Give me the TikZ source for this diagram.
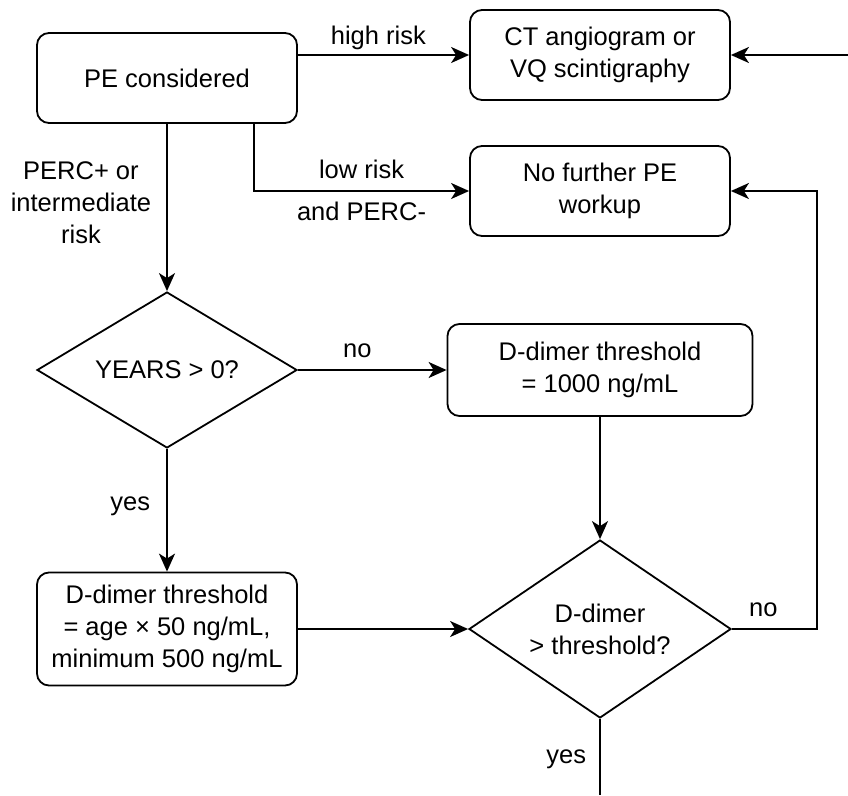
\documentclass[tikz,border=0pt]{standalone}
\usepackage{fontspec}
\setmainfont{Liberation Sans}
\usetikzlibrary{shapes.geometric,arrows.meta}

\begin{document}
\begin{tikzpicture}[x=1pt, y=-1pt, line width=1.8pt,
        font=\fontsize{25.5}{32}\selectfont,
        box/.style={draw, rounded corners=12pt, align=center, minimum width=260pt, minimum height=90pt, inner sep=0pt},
        decision/.style={draw, diamond, align=center, inner sep=0pt},
        arr/.style={-{Stealth[length=18pt, width=16pt, inset=5pt]}},
        lbl/.style={inner sep=6pt, text height=19pt, text depth=6pt}]
            \useasboundingbox (0,0) rectangle (848,795);

            \node[box] (pe) at (167,78) {PE considered};
            \node[box] (ct) at (600,55) {CT angiogram or\\VQ scintigraphy};
            \node[box] (nofurther) at (600,191) {No further PE\\workup};
            \node[decision, minimum width=260pt, minimum height=156pt, aspect=1.67] (years) at (167,370) {YEARS > 0?};
            \node[box, minimum width=305pt, minimum height=92pt] (fixedthr) at (600,370) {D-dimer threshold\\= 1000 ng/mL};
            \node[box, minimum height=113pt] (agethr) at (167,629) {D-dimer threshold\\= age × 50 ng/mL,\\minimum 500 ng/mL};
            \node[decision, minimum width=262pt, minimum height=178pt, aspect=1.47] (ddimer) at (600,629) {D-dimer\\> threshold?};

            \coordinate (rightin) at (848,55);
            \coordinate (loopcorner) at (817,629);
            \coordinate (exit) at (600,795);

            \draw[arr] (pe.east |- ct.west) -- node[lbl, pos=.47, anchor=south, inner sep=4pt] (highlbl) {high risk} (ct.west);
            \draw[arr] (rightin) -- (ct.east);
            \draw[arr] ([xshift=87pt]pe.south) |- node[lbl, pos=.75, anchor=south] (lowlbl) {low risk} node[lbl, pos=.75, anchor=north, inner sep=10pt] (perclbl) {and PERC-} (nofurther.west);
            \draw[arr] (pe.south) -- node[pos=.47, anchor=east, align=center, inner sep=6pt, xshift=-9pt] (interlbl) {PERC+ or\\intermediate\\risk} (years.north);
            \draw[arr] (years.east) -- node[lbl, pos=.4, anchor=south] (yearsno) {no} (fixedthr.west);
            \draw[arr] (years.south) -- node[lbl, pos=.45, anchor=east, xshift=-10pt] (yearsyes) {yes} (agethr.north);
            \draw[arr] (fixedthr.south) -- (ddimer.north);
            \draw[arr] (agethr.east) -- (ddimer.west);
            \draw[arr] (ddimer.east) -- node[lbl, pos=.37, anchor=south] (ddimerno) {no} (loopcorner) |- (nofurther.east);
            \draw (ddimer.south) -- node[lbl, pos=.5, anchor=east, xshift=-7pt] (ddimeryes) {yes} (exit);
        \end{tikzpicture}
\end{document}
